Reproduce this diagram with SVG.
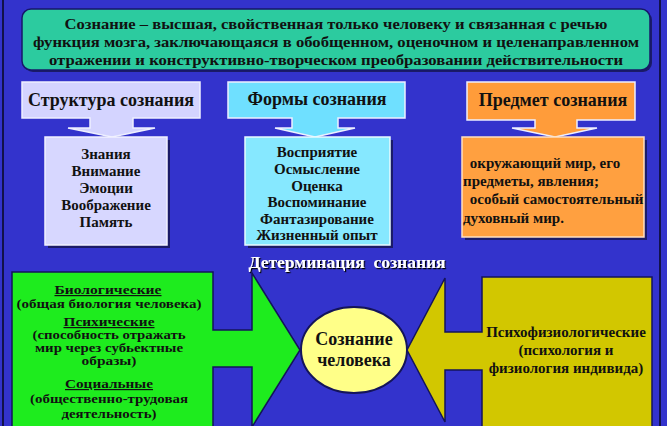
<svg xmlns="http://www.w3.org/2000/svg" width="667" height="426" viewBox="0 0 667 426">
<style>
  .t { font-family: "Liberation Serif", "DejaVu Serif", serif; font-weight: bold; fill: #111111; text-anchor: middle; }
  .tl { font-family: "Liberation Serif", "DejaVu Serif", serif; font-weight: bold; fill: #111111; }
  .g { font-size: 12px; }
  .d { font-size: 15.5px; }
  .shape { stroke: #14145a; stroke-width: 1.5; }
  .callout { stroke: #eef0ff; stroke-width: 1.5; }
  .shadow { fill: #15154f; opacity: 0.8; }
</style>
<defs>
  <filter id="ts" x="-10%" y="-30%" width="120%" height="160%">
    <feDropShadow dx="1.2" dy="1.2" stdDeviation="0.4" flood-color="#000000" flood-opacity="1"/>
  </filter>
</defs>
<rect x="0" y="0" width="667" height="426" fill="#3333cc"/>
<line x1="3" y1="0" x2="3" y2="426" stroke="#12124a" stroke-width="2"/>
<line x1="660" y1="0" x2="660" y2="426" stroke="#12124a" stroke-width="2"/>

<g id="definition">
  <rect x="24" y="11" width="628" height="61" rx="9" class="shadow"/>
  <rect x="22" y="9" width="628" height="61" rx="9" fill="#2ccb9f" stroke="#17176a" stroke-width="1.5"/>
  <text class="t d" x="336" y="29" textLength="543" lengthAdjust="spacingAndGlyphs">Сознание – высшая, свойственная только человеку и связанная с речью</text>
  <text class="t d" x="336" y="47" textLength="606" lengthAdjust="spacingAndGlyphs">функция мозга, заключающаяся в обобщенном, оценочном и целенаправленном</text>
  <text class="t d" x="336" y="65" textLength="574" lengthAdjust="spacingAndGlyphs">отражении и конструктивно-творческом преобразовании действительности</text>
</g>

<g id="structure-title">
  <path class="callout" d="M22 82 H200 V118 H133 V128 H155 L112 137 L68 128 H90 V118 H22 Z" fill="#d4d4ff"/>
  <text class="t" x="111" y="106" font-size="18">Структура сознания</text>
</g>
<g id="structure-list">
  <rect x="48" y="140" width="122" height="108" class="shadow"/>
  <rect x="45" y="137" width="122" height="108" fill="#d7d7ff" stroke="#f2f2ff" stroke-width="1.5"/>
  <text class="t" x="106" y="159" font-size="15">Знания</text>
  <text class="t" x="106" y="176" font-size="15">Внимание</text>
  <text class="t" x="106" y="193" font-size="15">Эмоции</text>
  <text class="t" x="106" y="210" font-size="15">Воображение</text>
  <text class="t" x="106" y="227" font-size="15">Память</text>
</g>

<g id="forms-title">
  <path class="callout" d="M228 82 H405 V118 H338 V128 H355 L315 137 L275 128 H292 V118 H228 Z" fill="#6fe0ff"/>
  <text class="t" x="317" y="105" font-size="18">Формы сознания</text>
</g>
<g id="forms-list">
  <rect x="248" y="140" width="145" height="108" class="shadow"/>
  <rect x="245" y="137" width="145" height="108" fill="#86e8ff" stroke="#e8fbff" stroke-width="1.5"/>
  <text class="t" x="317" y="157" font-size="15">Восприятие</text>
  <text class="t" x="317" y="174" font-size="15">Осмысление</text>
  <text class="t" x="317" y="191" font-size="15">Оценка</text>
  <text class="t" x="317" y="207" font-size="15">Воспоминание</text>
  <text class="t" x="317" y="224" font-size="15">Фантазирование</text>
  <text class="t" x="317" y="240" font-size="15">Жизненный опыт</text>
</g>

<g id="subject-title">
  <path class="callout" d="M467 82 H635 V120 H577 V128 H597 L555 137 L512 128 H535 V120 H467 Z" fill="#ff9c3a"/>
  <text class="t" x="553" y="106" font-size="18">Предмет сознания</text>
</g>
<g id="subject-list">
  <rect x="465" y="140" width="182" height="100" class="shadow"/>
  <rect x="462" y="137" width="182" height="100" fill="#ffa040" stroke="#ffe0c0" stroke-width="1.5"/>
  <text class="tl" x="466" y="168" font-size="15" xml:space="preserve"> окружающий мир, его</text>
  <text class="tl" x="463" y="186" font-size="15">предметы, явления;</text>
  <text class="tl" x="466" y="204" font-size="15" xml:space="preserve"> особый самостоятельный</text>
  <text class="tl" x="463" y="223" font-size="15">духовный мир.</text>
</g>

<g id="determination-label">
  <text class="t" x="347" y="268" font-size="17.5" style="fill:#ffffff" filter="url(#ts)" xml:space="preserve">Детерминация  сознания</text>
</g>

<g id="connectors">
  <path class="shape" d="M12 272 H213 V330 H252 V273 L300 350 L252 427 V367 H213 V432 H12 Z" fill="#1eec1e"/>
  <path class="shape" d="M652 277 H482 V332 H445 V278 L407 350 L445 422 V370 H482 V432 H652 Z" fill="#d2c700"/>
</g>

<g id="biological">
  <text class="t g" x="108" y="294" text-decoration="underline" textLength="107" lengthAdjust="spacingAndGlyphs">Биологические</text>
  <text class="t g" x="109" y="308" textLength="185" lengthAdjust="spacingAndGlyphs">(общая биология человека)</text>
  <text class="t g" x="109" y="326" text-decoration="underline" textLength="91" lengthAdjust="spacingAndGlyphs">Психические</text>
  <text class="t g" x="109" y="339" textLength="153" lengthAdjust="spacingAndGlyphs">(способность отражать</text>
  <text class="t g" x="109" y="352" textLength="148" lengthAdjust="spacingAndGlyphs">мир через субьектные</text>
  <text class="t g" x="109" y="365" textLength="55" lengthAdjust="spacingAndGlyphs">образы)</text>
  <text class="t g" x="109" y="388" text-decoration="underline" textLength="88" lengthAdjust="spacingAndGlyphs">Социальные</text>
  <text class="t g" x="109" y="403" textLength="158" lengthAdjust="spacingAndGlyphs">(общественно-трудовая</text>
  <text class="t g" x="109" y="418" textLength="95" lengthAdjust="spacingAndGlyphs">деятельность)</text>
</g>

<g id="psychophysiological">
  <text class="t" x="566" y="337" font-size="15">Психофизиологические</text>
  <text class="t" x="566" y="355" font-size="15">(психология и</text>
  <text class="t" x="566" y="373" font-size="15">физиология индивида)</text>
</g>

<g id="consciousness">
  <ellipse cx="354" cy="350" rx="53" ry="43" fill="#ffff88" stroke="#14145a" stroke-width="2"/>
  <text class="t" x="354" y="345" font-size="18">Сознание</text>
  <text class="t" x="354" y="366" font-size="18">человека</text>
</g>
</svg>
